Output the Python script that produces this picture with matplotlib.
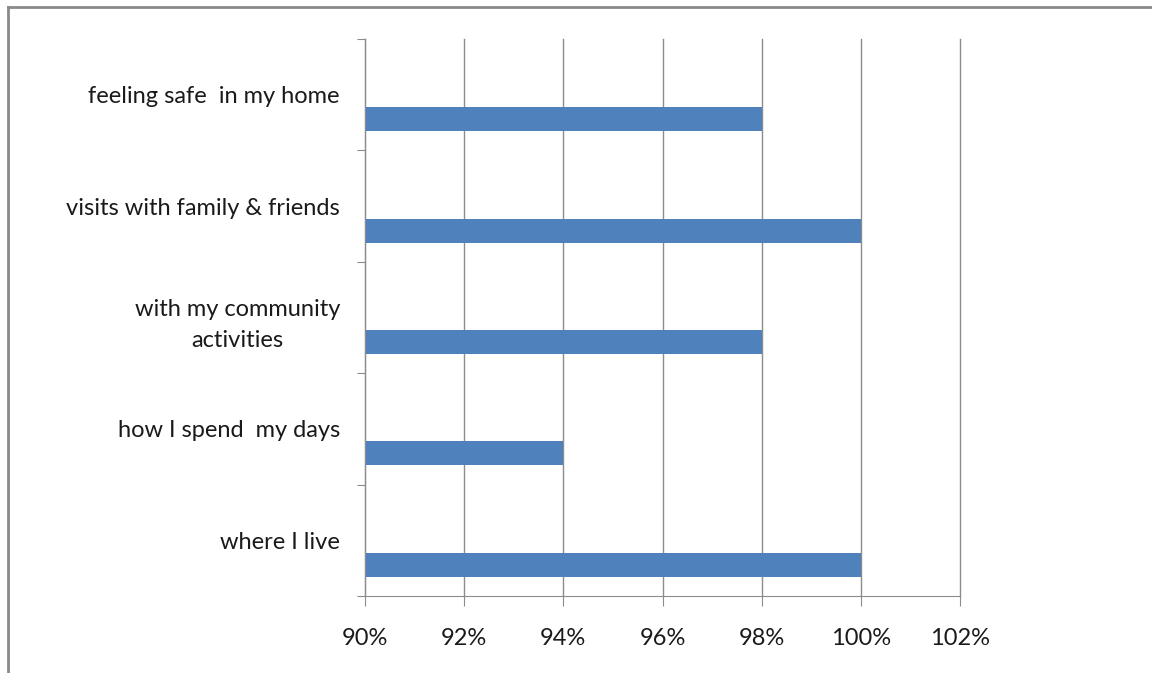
import matplotlib.pyplot as plt
from matplotlib.lines import Line2D
from matplotlib.ticker import FuncFormatter

categories = ["where I live", "how I spend  my days", "with my community\nactivities",
              "visits with family & friends", "feeling safe  in my home"]
values = [100, 94, 98, 100, 98]

xticks = [90, 92, 94, 96, 98, 100, 102]

plt.rcParams["font.family"] = ["Lato", "DejaVu Sans"]

fig = plt.figure(figsize=(11.52, 6.73), dpi=100)
ax = fig.add_axes([365 / 1152, 77 / 673, 595 / 1152, 557 / 673])

pos = list(range(len(categories)))
bar_pos = [p - 0.22 for p in pos]
ax.barh(bar_pos, [v - 90 for v in values], left=90, height=0.216, color="#4F81BD")

ax.set_xlim(90, 102)
ax.set_ylim(-0.5, len(categories) - 0.5)
ax.set_xticks(xticks)
ax.xaxis.set_major_formatter(FuncFormatter(lambda v, p: f"{v:.0f}%"))
ax.grid(True, axis="x", color="#8c8c8c", linewidth=1)
for gl in ax.get_xgridlines():
    gl.set_clip_on(False)
ax.set_axisbelow(True)

# category boundary ticks (major) and labels at band centres (minor)
ax.set_yticks([p - 0.5 for p in pos] + [len(categories) - 0.5])
ax.set_yticklabels([])
ax.set_yticks(pos, minor=True)
ax.set_yticklabels(categories, minor=True)
ax.tick_params(axis="y", which="major", length=6, color="#8c8c8c", direction="out")
ax.tick_params(axis="y", which="minor", length=0, pad=18, labelsize=17, labelcolor="#1a1a1a")
ax.tick_params(axis="x", length=7, color="#8c8c8c", pad=16, labelsize=17, labelcolor="#1a1a1a")
for lbl in ax.get_yticklabels(minor=True):
    lbl.set_multialignment("center")
    lbl.set_linespacing(1.6)

for s in ["top", "right"]:
    ax.spines[s].set_visible(False)
ax.spines["left"].set_color("#8c8c8c")
ax.spines["bottom"].set_color("#8c8c8c")

# outer chart border
fig.add_artist(Line2D([8 / 1152, 1], [1 - 7 / 673, 1 - 7 / 673], color="#8a8a8a", linewidth=2,
                      transform=fig.transFigure))
fig.add_artist(Line2D([8 / 1152, 8 / 1152], [0, 1 - 7 / 673], color="#8a8a8a", linewidth=2,
                      transform=fig.transFigure))

fig.savefig("out.png", dpi=100)
